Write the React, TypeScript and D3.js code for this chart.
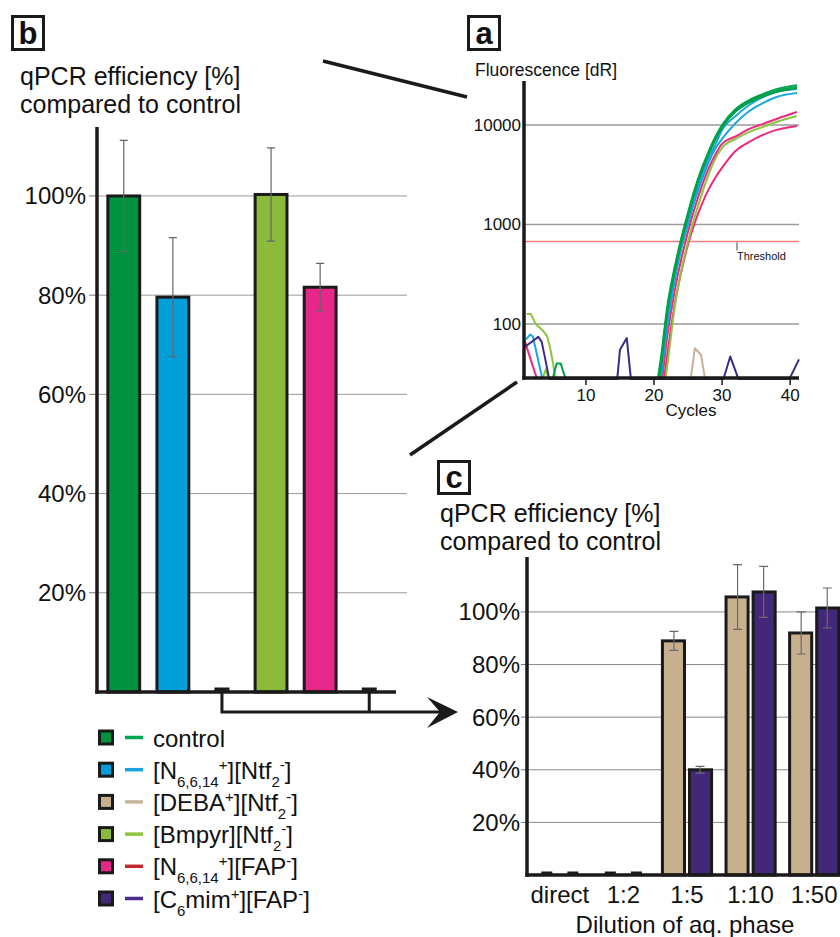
import React, { useEffect, useRef } from "react";
import * as d3 from "d3";

const FONT = "'Liberation Sans', Arial, Helvetica, sans-serif";
const INK = "#1a1a1a";

// ---- panel b: efficiency of each ionic liquid vs control
const samples = ["control", "N6614_Ntf2", "DEBA_Ntf2", "Bmpyr_Ntf2", "N6614_FAP", "C6mim_FAP"];
const efficiency = [100, 79.6, 0, 100.3, 81.6, 0];
const efficiencyErr = [11.2, 12, 0, 9.4, 4.8, 0];
const barColors = ["#00933f", "#009fd9", "#c8b08e", "#8cbb3b", "#e6288a", "#43287a"];
const dashColors = ["#00a651", "#1aa3e0", "#c8b59a", "#8dc63f", "#c1272d", "#4b2c8c"];
const ticksB = [20, 40, 60, 80, 100];
const legendLabels = [
  [["control", ""]],
  [["[N", ""], ["6,6,14", "sub"], ["+", "sup"], ["][Ntf", ""], ["2", "sub"], ["-", "sup"], ["]", ""]],
  [["[DEBA", ""], ["+", "sup"], ["][Ntf", ""], ["2", "sub"], ["-", "sup"], ["]", ""]],
  [["[Bmpyr][Ntf", ""], ["2", "sub"], ["-", "sup"], ["]", ""]],
  [["[N", ""], ["6,6,14", "sub"], ["+", "sup"], ["][FAP", ""], ["-", "sup"], ["]", ""]],
  [["[C", ""], ["6", "sub"], ["mim", ""], ["+", "sup"], ["][FAP", ""], ["-", "sup"], ["]", ""]],
];

// ---- panel c: dilution series
const dilutions = ["direct", "1:2", "1:5", "1:10", "1:50"];
const dilSeries = ["DEBA", "C6mim"];
const debaEff = [0, 0, 89, 105.7, 92];
const debaErr = [0, 0, 3.6, 12.3, 8];
const c6mimEff = [0, 0, 40, 107.6, 101.5];
const c6mimErr = [0, 0, 1.3, 9.7, 7.6];
const ticksC = [20, 40, 60, 80, 100];

// ---- panel a: amplification curves (dR per cycle)
const ampCycles = [20, 21, 22, 23, 24, 25, 26, 27, 28, 29, 30, 32, 34, 36, 38, 41];
const control1 = [16, 45, 158, 363, 724, 1318, 2291, 3631, 5370, 7586, 10000, 14454, 17783, 20417, 22909, 25119];
const control2 = [14, 40, 145, 340, 690, 1260, 2200, 3500, 5200, 7300, 9600, 14000, 17200, 19800, 22000, 24000];
const control3 = [12, 36, 135, 320, 650, 1200, 2100, 3400, 5000, 7100, 9400, 13600, 16800, 19300, 21500, 23400];
const n6614Ntf2a = [10, 32, 112, 282, 603, 1072, 1862, 3020, 4571, 6310, 8900, 12300, 15849, 19055, 21380, 22900];
const n6614Ntf2b = [9, 28, 100, 263, 562, 1000, 1738, 2754, 4169, 5754, 7244, 10471, 13800, 16600, 19055, 20900];
const bmpyrNtf2 = [4, 13, 40, 141, 339, 676, 1202, 1995, 3162, 4571, 5888, 7244, 8511, 9550, 10715, 12303];
const n6614Fapa = [8, 22, 79, 209, 447, 851, 1479, 2399, 3631, 5012, 6457, 7674, 9120, 10233, 11482, 13490];
const n6614Fapb = [5, 16, 52, 151, 331, 631, 1047, 1585, 2239, 2951, 3715, 5495, 6761, 7943, 8913, 9772];
const thresholdDR = 675;
const ticksAy = [100, 1000, 10000];
const ticksAx = [10, 20, 30, 40];

// background noise traces
const noiseBmpyrC = [1.3, 1.9, 2.6, 3.6, 4.3, 4.8, 5.2, 5.5];
const noiseBmpyrV = [126, 126, 100, 87, 75, 55, 39, 28];
const noiseBmpyr2C = [3.6, 4.1, 4.5];
const noiseBmpyr2V = [28, 35, 28];
const noiseBlueC = [1.2, 1.8, 2.2, 3.6];
const noiseBlueV = [70, 78, 75, 28];
const noisePinkC = [1.05, 2.8];
const noisePinkV = [66, 28];
const noiseGreenC = [5.1, 5.7, 6.3, 7.0];
const noiseGreenV = [28, 40, 40, 28];
const noiseTanC = [25.4, 26.0, 26.9, 27.5];
const noiseTanV = [28, 57, 49, 28];
const noisePurpleC = [1.05, 3.0, 3.5, 4.0, 4.6, 14.6, 15.0, 16.0, 16.6, 30.2, 31.2, 32.4, 39.9, 41.3];
const noisePurpleV = [59, 74, 66, 45, 28, 28, 55, 72, 28, 28, 47, 28, 28, 44];

const GREEN = "#00a14b";
const BLUE = "#1ba6e0";
const LGREEN = "#8cc63f";
const PINK = "#ec297b";
const PURPLE = "#3b2a86";
const TAN = "#c7b299";

const App = () => {
  const ref = useRef<SVGSVGElement>(null);

  useEffect(() => {
    const svg = d3.select(ref.current);
    svg.selectAll("*").remove();
    svg.append("rect").attr("width", 840).attr("height", 937).attr("fill", "#fff");

    const txt = (g, x, y, s, size, anchor = "start", weight = "normal") =>
      g.append("text")
        .attr("x", x).attr("y", y)
        .attr("font-family", FONT).attr("font-size", size)
        .attr("font-weight", weight)
        .attr("text-anchor", anchor).attr("fill", "#111")
        .text(s);

    const panelTag = (x, y, w, h, s) => {
      svg.append("rect").attr("x", x).attr("y", y).attr("width", w).attr("height", h)
        .attr("fill", "#fff").attr("stroke", INK).attr("stroke-width", 3);
      txt(svg, x + w / 2, y + h - 6, s, 31, "middle", "bold");
    };

    // connector lines between panels
    svg.append("line").attr("x1", 323).attr("y1", 61).attr("x2", 467).attr("y2", 97)
      .attr("stroke", INK).attr("stroke-width", 3.5);
    svg.append("line").attr("x1", 410).attr("y1", 455).attr("x2", 517).attr("y2", 382)
      .attr("stroke", INK).attr("stroke-width", 3.5);

    // ================= panel b
    const gB = svg.append("g");
    const yB = d3.scaleLinear().domain([0, 113.7]).range([692, 128]);
    const xB = d3.scaleBand().domain(samples).range([97.5, 395.5]).paddingInner(0.29).paddingOuter(0.18);
    const bwB = xB.bandwidth();

    gB.selectAll("line.grid").data(ticksB).join("line")
      .attr("x1", 97).attr("x2", 407)
      .attr("y1", (d) => yB(d)).attr("y2", (d) => yB(d))
      .attr("stroke", "#9a9a9a").attr("stroke-width", 1);
    gB.selectAll("line.tick").data(ticksB).join("line")
      .attr("x1", 89).attr("x2", 97)
      .attr("y1", (d) => yB(d)).attr("y2", (d) => yB(d))
      .attr("stroke", "#777").attr("stroke-width", 1);
    ticksB.forEach((t) => txt(gB, 86, yB(t) + 8.5, `${t}%`, 24, "end"));

    samples.forEach((s, i) => {
      const v = efficiency[i];
      const cx = xB(s) + bwB / 2;
      if (v > 0) {
        gB.append("rect")
          .attr("x", xB(s) + 1.5).attr("y", yB(v))
          .attr("width", bwB - 3).attr("height", yB(0) - yB(v))
          .attr("fill", barColors[i]).attr("stroke", INK).attr("stroke-width", 3);
        const e = efficiencyErr[i];
        gB.append("path")
          .attr("d", `M${cx},${yB(v + e)}V${yB(v - e)}M${cx - 4},${yB(v + e)}H${cx + 4}M${cx - 4},${yB(v - e)}H${cx + 4}`)
          .attr("stroke", "#666").attr("stroke-width", 1.2).attr("fill", "none");
      } else {
        gB.append("rect").attr("x", cx - 7.5).attr("y", yB(0) - 4.5)
          .attr("width", 15).attr("height", 4.5).attr("fill", INK);
      }
    });

    // axes b
    gB.append("line").attr("x1", 97).attr("x2", 97).attr("y1", 127).attr("y2", 693.7)
      .attr("stroke", INK).attr("stroke-width", 3.5);
    gB.append("line").attr("x1", 95.3).attr("x2", 396).attr("y1", 692).attr("y2", 692)
      .attr("stroke", INK).attr("stroke-width", 3.5);

    // bracket + arrow to panel c
    const bx1 = xB("DEBA_Ntf2") + bwB / 2;
    const bx2 = xB("C6mim_FAP") + bwB / 2;
    gB.append("path")
      .attr("d", `M${bx1},692V712H442M${bx2},692V712`)
      .attr("stroke", INK).attr("stroke-width", 3).attr("fill", "none");
    gB.append("path").attr("d", "M458,712L427,697L440,712L427,728Z").attr("fill", INK);

    txt(gB, 20, 85, "qPCR efficiency [%]", 25);
    txt(gB, 20, 113, "compared to control", 25);

    // legend
    legendLabels.forEach((segs, i) => {
      const cy = 737.5 + i * 32.2;
      gB.append("rect").attr("x", 99.5).attr("y", cy - 6.5).attr("width", 13).attr("height", 13)
        .attr("fill", barColors[i]).attr("stroke", INK).attr("stroke-width", 3);
      gB.append("line").attr("x1", 125).attr("x2", 143).attr("y1", cy).attr("y2", cy)
        .attr("stroke", dashColors[i]).attr("stroke-width", 3.5);
      const t = gB.append("text").attr("x", 153).attr("y", cy + 9)
        .attr("font-family", FONT).attr("font-size", 24).attr("fill", "#111");
      let cur = 0;
      segs.forEach(([s, k]) => {
        const target = k === "sub" ? 8 : k === "sup" ? -9 : 0;
        t.append("tspan").attr("dy", target - cur).attr("font-size", k ? 15 : 24).text(s);
        cur = target;
      });
    });

    panelTag(12.5, 16.5, 31, 33, "b");

    // ================= panel a
    const gA = svg.append("g");
    const xA = d3.scaleLinear().domain([0.9, 41.3]).range([524, 799]);
    const yA = d3.scaleLog().domain([28.6, 27000]).range([378, 82]);

    gA.selectAll("line.grid").data(ticksAy).join("line")
      .attr("x1", 524).attr("x2", 799)
      .attr("y1", (d) => yA(d)).attr("y2", (d) => yA(d))
      .attr("stroke", "#9a9a9a").attr("stroke-width", 1.5);
    gA.append("line").attr("x1", 524).attr("x2", 799)
      .attr("y1", yA(thresholdDR)).attr("y2", yA(thresholdDR))
      .attr("stroke", "#f08080").attr("stroke-width", 1.5);
    gA.append("line").attr("x1", 737).attr("x2", 737)
      .attr("y1", yA(thresholdDR) + 1).attr("y2", yA(thresholdDR) + 9)
      .attr("stroke", "#444").attr("stroke-width", 1);
    txt(gA, 737, 260, "Threshold", 11);

    svg.append("clipPath").attr("id", "clipA").append("rect")
      .attr("x", 524).attr("y", 60).attr("width", 280).attr("height", 320);
    const curves = gA.append("g").attr("clip-path", "url(#clipA)");

    const amp = d3.line<number>().x((d, i) => xA(ampCycles[i])).y((d) => yA(d)).curve(d3.curveMonotoneX);
    const ampSets = [
      [n6614Fapb, PINK], [bmpyrNtf2, LGREEN], [n6614Fapa, PINK],
      [n6614Ntf2b, BLUE], [n6614Ntf2a, BLUE],
      [control3, GREEN], [control2, GREEN], [control1, GREEN],
    ];
    ampSets.forEach(([vals, c]) => {
      curves.append("path").attr("d", amp(vals)).attr("fill", "none")
        .attr("stroke", c).attr("stroke-width", 2);
    });

    const noise = (cs, vs, c) => {
      const ln = d3.line<number>().x((d, i) => xA(cs[i])).y((d) => yA(d));
      curves.append("path").attr("d", ln(vs)).attr("fill", "none")
        .attr("stroke", c).attr("stroke-width", 2).attr("stroke-linejoin", "round");
    };
    noise(noiseBmpyrC, noiseBmpyrV, LGREEN);
    noise(noiseBmpyr2C, noiseBmpyr2V, LGREEN);
    noise(noiseBlueC, noiseBlueV, BLUE);
    noise(noisePinkC, noisePinkV, PINK);
    noise(noiseGreenC, noiseGreenV, GREEN);
    noise(noiseTanC, noiseTanV, TAN);
    noise(noisePurpleC, noisePurpleV, PURPLE);

    gA.append("line").attr("x1", 524).attr("x2", 524).attr("y1", 81).attr("y2", 379.7)
      .attr("stroke", INK).attr("stroke-width", 3.5);
    gA.append("line").attr("x1", 522.3).attr("x2", 799).attr("y1", 378).attr("y2", 378)
      .attr("stroke", INK).attr("stroke-width", 3.5);
    gA.selectAll("line.xt").data(ticksAx).join("line")
      .attr("x1", (d) => xA(d)).attr("x2", (d) => xA(d))
      .attr("y1", 378).attr("y2", 385)
      .attr("stroke", INK).attr("stroke-width", 1.5);
    ticksAx.forEach((t) => txt(gA, xA(t), 401, `${t}`, 17, "middle"));
    ticksAy.forEach((t) => txt(gA, 521, yA(t) + 6, `${t}`, 17, "end"));
    txt(gA, 691, 416, "Cycles", 17, "middle");
    txt(gA, 475, 76, "Fluorescence [dR]", 17.5);

    panelTag(468.5, 16.5, 31, 33, "a");

    // ================= panel c
    const gC = svg.append("g");
    const yC = d3.scaleLinear().domain([0, 120.5]).range([875, 558]);
    const x0C = d3.scaleBand().domain(dilutions).range([528, 846]).paddingInner(0.18).paddingOuter(0.09);
    const x1C = d3.scaleBand().domain(dilSeries).range([0, x0C.bandwidth()]);
    const bw1 = x1C.bandwidth();

    gC.selectAll("line.grid").data(ticksC).join("line")
      .attr("x1", 527).attr("x2", 840)
      .attr("y1", (d) => yC(d)).attr("y2", (d) => yC(d))
      .attr("stroke", "#8a8a8a").attr("stroke-width", 1);
    gC.selectAll("line.tick").data(ticksC).join("line")
      .attr("x1", 521).attr("x2", 527)
      .attr("y1", (d) => yC(d)).attr("y2", (d) => yC(d))
      .attr("stroke", "#777").attr("stroke-width", 1);
    ticksC.forEach((t) => txt(gC, 520, yC(t) + 8.5, `${t}%`, 24, "end"));

    const dilVals = [debaEff, c6mimEff];
    const dilErrs = [debaErr, c6mimErr];
    const dilColors = [barColors[2], barColors[5]];
    dilutions.forEach((d, i) => {
      dilSeries.forEach((s, j) => {
        const v = dilVals[j][i];
        const x = x0C(d) + x1C(s);
        const cx = x + bw1 / 2;
        if (v > 0) {
          gC.append("rect")
            .attr("x", x + 1.5 + (j === 0 ? 0 : 1)).attr("y", yC(v))
            .attr("width", bw1 - 4).attr("height", yC(0) - yC(v))
            .attr("fill", dilColors[j]).attr("stroke", INK).attr("stroke-width", 3);
          const e = dilErrs[j][i];
          gC.append("path")
            .attr("d", `M${cx},${yC(v + e)}V${yC(v - e)}M${cx - 4.5},${yC(v + e)}H${cx + 4.5}M${cx - 4.5},${yC(v - e)}H${cx + 4.5}`)
            .attr("stroke", "#6a6a6a").attr("stroke-width", 1.2).attr("fill", "none");
        } else {
          gC.append("rect").attr("x", cx - 5.5).attr("y", yC(0) - 3.5)
            .attr("width", 11).attr("height", 3.5).attr("fill", INK);
        }
      });
    });

    gC.append("line").attr("x1", 527).attr("x2", 527).attr("y1", 557).attr("y2", 876.7)
      .attr("stroke", INK).attr("stroke-width", 3.5);
    gC.append("line").attr("x1", 525.3).attr("x2", 840).attr("y1", 875).attr("y2", 875)
      .attr("stroke", INK).attr("stroke-width", 3.5);
    dilutions.forEach((d) => txt(gC, x0C(d) + x0C.bandwidth() / 2, 903, d, 24, "middle"));
    txt(gC, 685, 933, "Dilution of aq. phase", 24, "middle");
    txt(gC, 440, 522, "qPCR efficiency [%]", 25);
    txt(gC, 440, 550, "compared to control", 25);

    panelTag(438.5, 461.5, 31, 32, "c");
  }, []);

  return (
    <div style={{ position: "absolute", left: 0, top: 0 }}>
      <svg ref={ref} width={840} height={937} style={{ display: "block" }} />
    </div>
  );
};

export default App;
